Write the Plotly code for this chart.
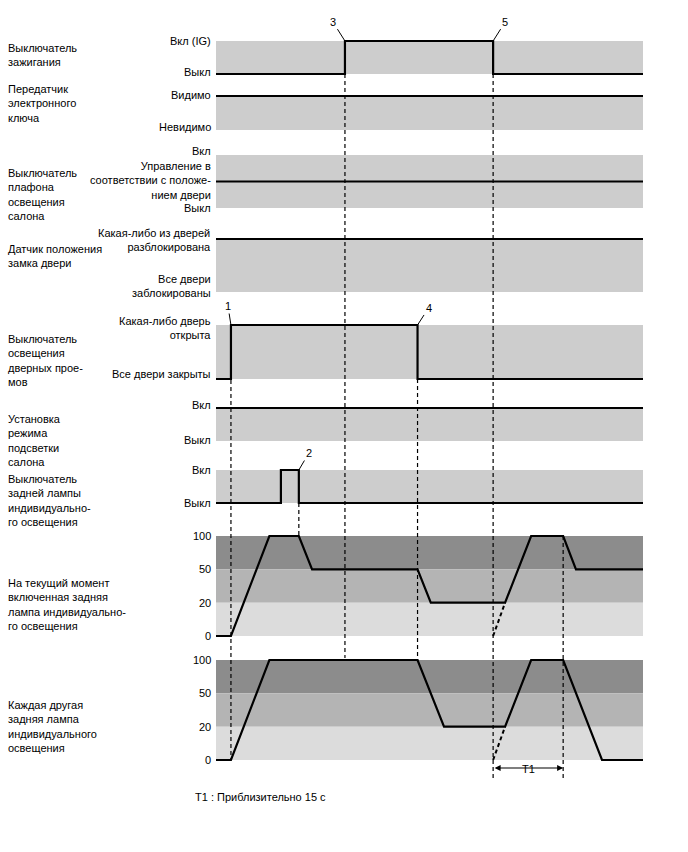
import plotly.graph_objects as go

W, H = 688, 852
FONT = "Liberation Sans, Arial, sans-serif"

# ---------------- data (time in arbitrary units, 0..100 = chart width) ----------------
T_START, T_END = 0, 100

ign_t = [0, 30.2, 64.9, 100]
ign_v = [0, 1, 0, 0]

key_t = [0, 100]
key_v = [1, 1]

interior_t = [0, 100]
interior_v = [1, 1]          # 0 = Выкл, 1 = по двери, 2 = Вкл

lock_t = [0, 100]
lock_v = [1, 1]

door_t = [0, 3.5, 47.2, 100]
door_v = [0, 1, 0, 0]

mode_t = [0, 100]
mode_v = [1, 1]

rear_t = [0, 15.2, 19.4, 100]
rear_v = [0, 1, 0, 0]

lamp_levels = ["0", "20", "50", "100"]
lamp1_t = [0, 3.5, 12.5, 19.4, 22.5, 47.2, 50.3, 67.7, 73.8, 81.3, 84.3, 100]
lamp1_v = ["0", "0", "100", "100", "50", "50", "20", "20", "100", "100", "50", "50"]
lamp2_t = [0, 3.5, 12.5, 47.2, 53.4, 67.7, 73.8, 81.3, 90.4, 100]
lamp2_v = ["0", "0", "100", "100", "20", "20", "100", "100", "0", "0"]
fade_t = [64.9, 67.7]
fade_v = ["0", "20"]

# event markers: (label, time)
events = [("1", 3.5), ("2", 19.4), ("3", 30.2), ("4", 47.2), ("5", 64.9)]
t1_start, t1_end = 64.9, 81.3

left_labels = [
    "Выключатель<br>зажигания",
    "Передатчик<br>электронного<br>ключа",
    "Выключатель<br>плафона<br>освещения<br>салона",
    "Датчик положения<br>замка двери",
    "Выключатель<br>освещения<br>дверных прое-<br>мов",
    "Установка<br>режима<br>подсветки<br>салона",
    "Выключатель<br>задней лампы<br>индивидуально-<br>го освещения",
    "На текущий момент<br>включенная задняя<br>лампа индивидуально-<br>го освещения",
    "Каждая другая<br>задняя лампа<br>индивидуального<br>освещения",
]

# ---------------- layout geometry (pixels) ----------------
X0_PX, X1_PX = 216, 643
XPAD = 2
px_per_unit = (X1_PX - X0_PX) / (T_END - T_START)
x_dom = [(X0_PX - XPAD * px_per_unit) / W, (X1_PX + XPAD * px_per_unit) / W]

LI = {l: i for i, l in enumerate(lamp_levels)}   # category index of each level

rows = [
    dict(top=41, bot=74, lo=0, hi=1, cat=False, label_c=55,
         ticks=[(1, "Вкл (IG)", 0), (0, "Выкл", 2)]),
    dict(top=96, bot=130, lo=0, hi=1, cat=False, label_c=104,
         ticks=[(1, "Видимо", 1), (0, "Невидимо", 3)]),
    dict(top=155, bot=208, lo=0, hi=2, cat=False, label_c=194,
         ticks=[(2, "Вкл", 4), (1, "Управление в<br>соответствии с положе-<br>нием двери", 1), (0, "Выкл", 0)]),
    dict(top=239, bot=292, lo=0, hi=1, cat=False, label_c=256,
         ticks=[(1, "Какая-либо из дверей<br>разблокирована", -1), (0, "Все двери<br>заблокированы", 6)]),
    dict(top=325, bot=379, lo=0, hi=1, cat=False, label_c=360,
         ticks=[(1, "Какая-либо дверь<br>открыта", -3), (0, "Все двери закрыты", 5)]),
    dict(top=408, bot=441, lo=0, hi=1, cat=False, label_c=440,
         ticks=[(1, "Вкл", 3), (0, "Выкл", 1)]),
    dict(top=470, bot=503, lo=0, hi=1, cat=False, label_c=500,
         ticks=[(1, "Вкл", 0), (0, "Выкл", 0)]),
    dict(top=536, bot=636, lo=0, hi=3, cat=True, label_c=604,
         ticks=[(LI[l], l, 0) for l in lamp_levels]),
    dict(top=660, bot=760, lo=0, hi=3, cat=True, label_c=726,
         ticks=[(LI[l], l, 0) for l in lamp_levels]),
]
YPAD = 5

signals = [
    (ign_t, ign_v), (key_t, key_v), (interior_t, interior_v), (lock_t, lock_v),
    (door_t, door_v), (mode_t, mode_v), (rear_t, rear_v),
    (lamp1_t, lamp1_v), (lamp2_t, lamp2_v),
]

BAND = "#cdcdcd"
LAMP_BANDS = [("50", "100", "#8c8c8c"), ("20", "50", "#b4b4b4"), ("0", "20", "#dcdcdc")]

fig = go.Figure()
layout = dict(
    width=W, height=H, margin=dict(l=0, r=0, t=0, b=0),
    paper_bgcolor="white", plot_bgcolor="rgba(0,0,0,0)", showlegend=False,
    font=dict(family=FONT, size=11, color="black"),
    xaxis=dict(domain=x_dom, range=[T_START - XPAD, T_END + XPAD], visible=False,
               fixedrange=True),
)
shapes = []
annotations = []

for i, (r, (ts, vs)) in enumerate(zip(rows, signals), start=1):
    yname = "y" if i == 1 else f"y{i}"
    lname = "yaxis" if i == 1 else f"yaxis{i}"
    span = r["hi"] - r["lo"]
    unit = span / (r["bot"] - r["top"])
    ax = dict(
        domain=[1 - (r["bot"] + YPAD) / H, 1 - (r["top"] - YPAD) / H],
        range=[r["lo"] - YPAD * unit, r["hi"] + YPAD * unit],
        visible=False, anchor="x", fixedrange=True,
    )
    if r["cat"]:
        ax.update(type="category", categoryorder="array", categoryarray=lamp_levels)
        for c0, c1, col in LAMP_BANDS:
            shapes.append(dict(type="rect", xref="x", yref=yname, x0=T_START, x1=T_END,
                               y0=LI[c0], y1=LI[c1], fillcolor=col, line=dict(width=0),
                               layer="below"))
    else:
        shapes.append(dict(type="rect", xref="x", yref=yname, x0=T_START, x1=T_END,
                           y0=r["lo"], y1=r["hi"], fillcolor=BAND, line=dict(width=0), layer="below"))
    layout[lname] = ax

    fig.add_trace(go.Scatter(
        x=ts, y=vs, xaxis="x", yaxis=yname, mode="lines",
        line=dict(color="black", width=2.2, shape="linear" if r["cat"] else "hv"),
        hoverinfo="skip"))
    if r["cat"]:
        fig.add_trace(go.Scatter(
            x=fade_t, y=fade_v, xaxis="x", yaxis=yname, mode="lines",
            line=dict(color="black", width=2, dash="4px,3px"), hoverinfo="skip"))

    for val, txt, shift in r["ticks"]:
        annotations.append(dict(xref="paper", yref=yname, x=213 / W, y=val, yshift=shift,
                                text=txt, showarrow=False, xanchor="right", yanchor="middle",
                                align="right", font=dict(size=11)))
    annotations.append(dict(xref="paper", yref="paper", x=6 / W, y=1 - r["label_c"] / H,
                            text=left_labels[i - 1], showarrow=False, xanchor="left",
                            yanchor="middle", align="left", font=dict(size=11)))

# vertical dashed guide lines (pixel extents)
guides = [(3.5, 380, 760), (19.4, 503, 536), (30.2, 74, 658), (47.2, 379, 660),
          (64.9, 74, 780), (81.3, 536, 780)]
for t, ytop, ybot in guides:
    shapes.append(dict(type="line", xref="x", yref="paper", x0=t, x1=t,
                       y0=1 - ytop / H, y1=1 - ybot / H,
                       line=dict(color="black", width=1.2, dash="4px,3px"), layer="above"))

# event numbers with leader ticks
ev_anchor = {"1": ("y5", 1, -3, -19), "2": ("y7", 1, 10, -17), "3": ("y", 1, -12, -19),
             "4": ("y5", 1, 11, -17), "5": ("y", 1, 12, -19)}
for lab, t in events:
    yr, yv, axp, ayp = ev_anchor[lab]
    annotations.append(dict(xref="x", yref=yr, x=t, y=yv, text=lab, showarrow=True,
                            arrowhead=0, arrowwidth=1, arrowcolor="black", ax=axp, ay=ayp,
                            standoff=1, font=dict(size=11)))

# T1 dimension arrow
annotations.append(dict(xref="x", yref="paper", x=t1_end, y=1 - 768 / H, ax=t1_start, ay=0,
                        axref="x", ayref="pixel", showarrow=True, arrowhead=2, arrowside="end+start",
                        arrowsize=1, arrowwidth=1.2, arrowcolor="black", text=""))
annotations.append(dict(xref="x", yref="paper", x=(t1_start + t1_end) / 2, y=1 - 777 / H,
                        text="T1", showarrow=False, font=dict(size=11)))
annotations.append(dict(xref="paper", yref="paper", x=193 / W, y=1 - 797 / H,
                        text="T1 : Приблизительно 15 с", showarrow=False, xanchor="left",
                        yanchor="middle", font=dict(size=11)))

layout["shapes"] = shapes
layout["annotations"] = annotations
fig.update_layout(**layout)
fig.write_html("out.html", config={"staticPlot": True})
